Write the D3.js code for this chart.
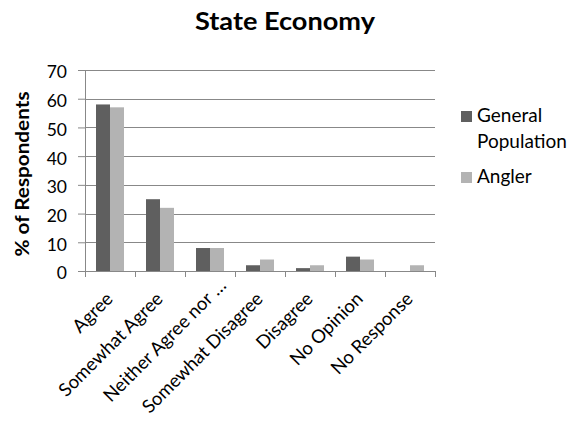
<!DOCTYPE html>
<html><head><meta charset="utf-8">
<script src="https://cdn.jsdelivr.net/npm/d3@7"></script>
<style>body{margin:0;background:#fff}svg{display:block}text{font-family:Lato,"Open Sans",sans-serif}</style>
</head><body><svg id="c" width="577" height="421"></svg>
<script>
const categories = ["Agree","Somewhat Agree","Neither Agree nor …","Somewhat Disagree","Disagree","No Opinion","No Response"];
const seriesNames = ["General Population","Angler"];
const generalPopulation = [58,25,8,2,1,5,0];
const angler = [57,22,8,4,2,4,2];
const yTicks = [0,10,20,30,40,50,60,70];
const colors = ["#5f5f5f","#b3b3b3"];

(function(){
const svg = d3.select("#c");
const pL = 85, pR = 435, pT = 70, pB = 271;
const x = d3.scaleBand().domain(categories).range([pL,pR]).paddingInner(0.44).paddingOuter(0.22);
const x1 = d3.scaleBand().domain(seriesNames).range([0,x.bandwidth()]);
const y = d3.scaleLinear().domain([0,70]).range([pB,pT]);
const axisColor = "#888888";

// gridlines
svg.append("g").selectAll("line").data(yTicks.slice(1)).join("line")
  .attr("x1",pL).attr("x2",pR).attr("y1",d=>Math.round(y(d))+0.5).attr("y2",d=>Math.round(y(d))+0.5)
  .attr("stroke",axisColor).attr("stroke-width",1);

// bars
const data = categories.map((c,i)=>({c, vals:[generalPopulation[i],angler[i]]}));
svg.append("g").selectAll("g").data(data).join("g")
  .attr("transform",d=>`translate(${x(d.c)},0)`)
  .selectAll("rect").data(d=>d.vals.map((v,j)=>({v,s:seriesNames[j],j}))).join("rect")
  .attr("x",d=>x1(d.s)).attr("width",x1.bandwidth())
  .attr("y",d=>y(d.v)).attr("height",d=>pB-y(d.v))
  .attr("fill",d=>colors[d.j]);

// y axis
const ya = svg.append("g").attr("transform",`translate(${pL},0)`)
  .call(d3.axisLeft(y).tickValues(yTicks).tickSize(7).tickPadding(11));
ya.select(".domain").attr("stroke",axisColor).attr("d",`M0.5,${pT}V${pB+0.5}`);
ya.selectAll(".tick line").attr("stroke",axisColor);
ya.selectAll(".tick text").attr("font-size",17.5).attr("fill","#000").attr("dy","0.45em")
  .style("font-family","Lato,sans-serif");

// x axis
const xa = svg.append("g").attr("transform",`translate(0,${pB})`);
xa.append("line").attr("x1",pL).attr("x2",pR).attr("y1",0.5).attr("y2",0.5).attr("stroke",axisColor);
const tickPos = categories.map(c=>x(c)-x.step()*x.paddingInner()/2).concat([pR]);
xa.selectAll(".tk").data(tickPos).join("line").attr("class","tk")
  .attr("x1",d=>Math.round(d)+0.5).attr("x2",d=>Math.round(d)+0.5).attr("y1",0).attr("y2",6).attr("stroke",axisColor);
const lbl = xa.selectAll(".lbl").data(categories).join("g").attr("class","lbl")
  .attr("transform",d=>`translate(${x(d)+x.bandwidth()/2+4},${29}) rotate(-45)`);
lbl.append("text").attr("text-anchor","end").attr("font-size",18.5).attr("fill","#000")
  .text(d=>d.endsWith(" …") ? d.slice(0,-2) : d);
lbl.filter(d=>d.endsWith(" …")).append("text").attr("text-anchor","start").attr("x",5)
  .attr("font-size",18.5).attr("fill","#000").text("…");

// y title
svg.append("text").attr("transform",`translate(29,174) rotate(-90)`)
  .attr("text-anchor","middle").attr("font-size",19).attr("font-weight","bold")
  .attr("textLength",165).attr("lengthAdjust","spacingAndGlyphs").text("% of Respondents");

// title
svg.append("text").attr("x",285).attr("y",30).attr("text-anchor","middle")
  .attr("font-size",25).attr("font-weight","bold")
  .attr("textLength",180).attr("lengthAdjust","spacingAndGlyphs").text("State Economy");

// legend
const lg = svg.append("g");
const legendItems = [{lines:["General","Population"],y:122,c:colors[0]},{lines:["Angler"],y:183,c:colors[1]}];
legendItems.forEach(it=>{
  lg.append("rect").attr("x",461).attr("y",it.y-11).attr("width",11).attr("height",11).attr("fill",it.c);
  const t = lg.append("text").attr("x",477).attr("y",it.y).attr("font-size",19).attr("fill","#000");
  it.lines.forEach((l,i)=>t.append("tspan").attr("x",477).attr("dy",i?26:0).text(l));
});
})();
</script></body></html>
